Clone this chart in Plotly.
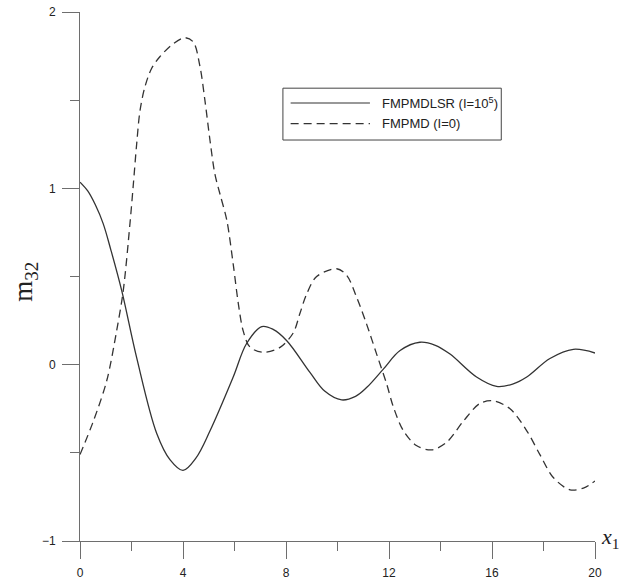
import plotly.graph_objects as go

# FMPMDLSR (I=10^5) solution
x_lsr = [0, 0.3, 0.6, 0.9, 1.2, 1.62, 2.2, 2.98, 3.5, 4.0, 4.5, 5.05, 5.95, 6.47, 7.06,
         7.5, 8.03, 8.93, 9.5, 10.16, 10.7, 11.13, 11.78, 12.43, 13.2, 13.8, 14.37, 15.4,
         16.18, 16.8, 17.35, 18.25, 19.16, 20]
y_lsr = [1.035, 0.985, 0.905, 0.80, 0.65, 0.42, 0.04, -0.39, -0.54, -0.60, -0.53, -0.375,
         -0.07, 0.12, 0.216, 0.20, 0.136, -0.044, -0.15, -0.20, -0.18, -0.13, -0.025, 0.08,
         0.127, 0.11, 0.06, -0.07, -0.123, -0.11, -0.07, 0.035, 0.087, 0.066]

# FMPMD (I=0) solution
x_md = [0, 0.52, 1.04, 1.42, 1.68, 1.94, 2.07, 2.2, 2.33, 2.52, 2.78, 3.1, 3.62, 4.08,
        4.4, 4.66, 4.85, 5.05, 5.24, 5.45, 5.70, 5.95, 6.15, 6.34, 6.6, 7.12, 7.77, 8.28,
        8.54, 8.8, 9.19, 9.97, 10.36, 10.75, 11.13, 11.52, 11.91, 12.17, 12.56, 13.08,
        13.66, 14.24, 14.89, 15.53, 16.05, 16.7, 17.35, 17.86, 18.38, 19.03, 19.55, 20]
y_md = [-0.51, -0.32, -0.09, 0.19, 0.42, 0.80, 1.02, 1.25, 1.44, 1.575, 1.68, 1.746, 1.82,
        1.854, 1.83, 1.69, 1.5, 1.27, 1.08, 0.96, 0.82, 0.57, 0.345, 0.19, 0.10, 0.07,
        0.098, 0.18, 0.29, 0.40, 0.50, 0.544, 0.506, 0.38, 0.23, 0.06, -0.11, -0.24,
        -0.375, -0.46, -0.483, -0.44, -0.32, -0.22, -0.205, -0.25, -0.375, -0.51, -0.64,
        -0.71, -0.70, -0.66]

names = ["FMPMDLSR (I=10<sup>5</sup>)", "FMPMD (I=0)"]
x_ticks = [0, 4, 8, 12, 16, 20]
y_ticks = [-1, 0, 1, 2]

LINE = "#333333"
AXIS = "#6e6e6e"
DASH = "8px,5px"

fig = go.Figure()
fig.add_trace(go.Scatter(x=x_lsr, y=y_lsr, mode="lines", name=names[0],
                         line=dict(color=LINE, width=1.3, shape="spline", smoothing=1.0)))
fig.add_trace(go.Scatter(x=x_md, y=y_md, mode="lines", name=names[1],
                         line=dict(color=LINE, width=1.3, dash=DASH, shape="spline",
                                   smoothing=0.9)))

tick_font = dict(family="Liberation Sans, Arial", size=12, color="#222222")
fig.update_layout(
    width=625, height=588,
    margin=dict(l=80, r=30, t=12, b=47),
    paper_bgcolor="white", plot_bgcolor="white",
    showlegend=False,
    xaxis=dict(range=[0, 20], tickvals=x_ticks, ticks="outside", ticklen=17,
               tickcolor=AXIS, tickwidth=1, showline=True, linecolor=AXIS, linewidth=1,
               showgrid=False, zeroline=False, tickfont=tick_font, ticklabelstandoff=4,
               automargin=False,
               minor=dict(dtick=2, ticks="outside", ticklen=9, tickcolor=AXIS,
                          showgrid=False)),
    yaxis=dict(range=[-1, 2], tickvals=y_ticks, ticks="outside", ticklen=17,
               tickcolor=AXIS, tickwidth=1, showline=True, linecolor=AXIS, linewidth=1,
               showgrid=False, zeroline=False, tickfont=tick_font, ticklabelstandoff=4,
               automargin=False,
               minor=dict(dtick=0.5, ticks="outside", ticklen=9, tickcolor=AXIS,
                          showgrid=False)),
)

# Legend box drawn in paper coordinates
lx0, lx1, ly0, ly1 = 0.394, 0.818, 0.758, 0.856
fig.add_shape(type="rect", xref="paper", yref="paper", x0=lx0, x1=lx1, y0=ly0, y1=ly1,
              line=dict(color="#444444", width=1), fillcolor="white", layer="above")
entry_y = [0.828, 0.789]
dashes = ["solid", DASH]
for name, yy, d in zip(names, entry_y, dashes):
    fig.add_shape(type="line", xref="paper", yref="paper", x0=0.409, x1=0.563,
                  y0=yy, y1=yy, line=dict(color=LINE, width=1.2, dash=d), layer="above")
    fig.add_annotation(xref="paper", yref="paper", x=0.582, y=yy, text=name,
                       showarrow=False, xanchor="left", yanchor="middle",
                       font=dict(family="Liberation Sans, Arial", size=13, color="#222222"))

# Axis titles
fig.add_annotation(xref="paper", yref="paper", x=-0.107, y=0.49,
                   text="m<sub>32</sub>", textangle=-90, showarrow=False,
                   xanchor="center", yanchor="middle",
                   font=dict(family="Liberation Serif, Times New Roman", size=27,
                             color="#222222"))
fig.add_annotation(xref="paper", yref="paper", x=1.008, y=0.005,
                   text="<i>x</i><sub>1</sub>", showarrow=False,
                   xanchor="left", yanchor="middle",
                   font=dict(family="Liberation Serif, Times New Roman", size=22,
                             color="#222222"))

fig.write_html("out.html")
